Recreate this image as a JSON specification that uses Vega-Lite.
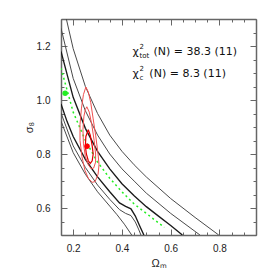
{
  "$schema": "https://vega.github.io/schema/vega-lite/v6.json",
  "width": 195,
  "height": 216,
  "autosize": "none",
  "padding": {"left": 61, "top": 19, "right": 18, "bottom": 39},
  "background": "white",
  "config": {"view": {"stroke": null}, "font": "Liberation Sans"},
  "datasets": {
    "lines": [
      {"g": "L1", "x": 0.172, "y": 1.3}, {"g": "L1", "x": 0.2, "y": 1.19}, {"g": "L1", "x": 0.25, "y": 1.05}, {"g": "L1", "x": 0.3, "y": 0.95}, {"g": "L1", "x": 0.35, "y": 0.87}, {"g": "L1", "x": 0.4, "y": 0.81}, {"g": "L1", "x": 0.45, "y": 0.76}, {"g": "L1", "x": 0.5, "y": 0.715}, {"g": "L1", "x": 0.6, "y": 0.635}, {"g": "L1", "x": 0.7, "y": 0.565}, {"g": "L1", "x": 0.797, "y": 0.5},
      {"g": "L2", "x": 0.15, "y": 1.266}, {"g": "L2", "x": 0.2, "y": 1.08}, {"g": "L2", "x": 0.25, "y": 0.96}, {"g": "L2", "x": 0.3, "y": 0.87}, {"g": "L2", "x": 0.35, "y": 0.8}, {"g": "L2", "x": 0.4, "y": 0.745}, {"g": "L2", "x": 0.45, "y": 0.7}, {"g": "L2", "x": 0.5, "y": 0.655}, {"g": "L2", "x": 0.6, "y": 0.58}, {"g": "L2", "x": 0.72, "y": 0.5},
      {"g": "L3", "x": 0.15, "y": 1.18}, {"g": "L3", "x": 0.2, "y": 1.01}, {"g": "L3", "x": 0.25, "y": 0.895}, {"g": "L3", "x": 0.3, "y": 0.81}, {"g": "L3", "x": 0.35, "y": 0.745}, {"g": "L3", "x": 0.4, "y": 0.69}, {"g": "L3", "x": 0.45, "y": 0.645}, {"g": "L3", "x": 0.5, "y": 0.605}, {"g": "L3", "x": 0.55, "y": 0.57}, {"g": "L3", "x": 0.6, "y": 0.535}, {"g": "L3", "x": 0.648, "y": 0.5},
      {"g": "L4", "x": 0.15, "y": 0.985}, {"g": "L4", "x": 0.175, "y": 0.92}, {"g": "L4", "x": 0.2, "y": 0.865}, {"g": "L4", "x": 0.25, "y": 0.78}, {"g": "L4", "x": 0.3, "y": 0.715}, {"g": "L4", "x": 0.35, "y": 0.66}, {"g": "L4", "x": 0.39, "y": 0.619}, {"g": "L4", "x": 0.415, "y": 0.606}, {"g": "L4", "x": 0.437, "y": 0.597}, {"g": "L4", "x": 0.455, "y": 0.57}, {"g": "L4", "x": 0.472, "y": 0.535}, {"g": "L4", "x": 0.49, "y": 0.5},
      {"g": "L5", "x": 0.15, "y": 0.952}, {"g": "L5", "x": 0.2, "y": 0.83}, {"g": "L5", "x": 0.25, "y": 0.75}, {"g": "L5", "x": 0.3, "y": 0.685}, {"g": "L5", "x": 0.35, "y": 0.632}, {"g": "L5", "x": 0.39, "y": 0.594}, {"g": "L5", "x": 0.415, "y": 0.58}, {"g": "L5", "x": 0.437, "y": 0.572}, {"g": "L5", "x": 0.455, "y": 0.548}, {"g": "L5", "x": 0.468, "y": 0.522}, {"g": "L5", "x": 0.478, "y": 0.5},
      {"g": "L6", "x": 0.15, "y": 0.922}, {"g": "L6", "x": 0.2, "y": 0.805}, {"g": "L6", "x": 0.25, "y": 0.725}, {"g": "L6", "x": 0.3, "y": 0.66}, {"g": "L6", "x": 0.35, "y": 0.607}, {"g": "L6", "x": 0.38, "y": 0.575}, {"g": "L6", "x": 0.41, "y": 0.54}, {"g": "L6", "x": 0.44, "y": 0.5}
    ],
    "green": [
      {"x": 0.15, "y": 1.118}, {"x": 0.2, "y": 0.955}, {"x": 0.25, "y": 0.85}, {"x": 0.3, "y": 0.77}, {"x": 0.35, "y": 0.71}, {"x": 0.4, "y": 0.66}, {"x": 0.45, "y": 0.615}, {"x": 0.5, "y": 0.58}, {"x": 0.574, "y": 0.528}
    ],
    "red": [
      {"c": "outer", "i": 0, "x": 0.252, "y": 1.048}, {"c": "outer", "i": 1, "x": 0.262, "y": 1.03}, {"c": "outer", "i": 2, "x": 0.272, "y": 0.99}, {"c": "outer", "i": 3, "x": 0.282, "y": 0.93}, {"c": "outer", "i": 4, "x": 0.292, "y": 0.87}, {"c": "outer", "i": 5, "x": 0.302, "y": 0.8}, {"c": "outer", "i": 6, "x": 0.306, "y": 0.76}, {"c": "outer", "i": 7, "x": 0.302, "y": 0.725}, {"c": "outer", "i": 8, "x": 0.29, "y": 0.698}, {"c": "outer", "i": 9, "x": 0.278, "y": 0.695}, {"c": "outer", "i": 10, "x": 0.262, "y": 0.71}, {"c": "outer", "i": 11, "x": 0.248, "y": 0.74}, {"c": "outer", "i": 12, "x": 0.236, "y": 0.79}, {"c": "outer", "i": 13, "x": 0.228, "y": 0.85}, {"c": "outer", "i": 14, "x": 0.228, "y": 0.91}, {"c": "outer", "i": 15, "x": 0.234, "y": 0.97}, {"c": "outer", "i": 16, "x": 0.242, "y": 1.02}, {"c": "outer", "i": 17, "x": 0.252, "y": 1.048},
      {"c": "middle", "i": 0, "x": 0.256, "y": 0.975}, {"c": "middle", "i": 1, "x": 0.266, "y": 0.955}, {"c": "middle", "i": 2, "x": 0.276, "y": 0.91}, {"c": "middle", "i": 3, "x": 0.286, "y": 0.85}, {"c": "middle", "i": 4, "x": 0.292, "y": 0.8}, {"c": "middle", "i": 5, "x": 0.292, "y": 0.77}, {"c": "middle", "i": 6, "x": 0.284, "y": 0.748}, {"c": "middle", "i": 7, "x": 0.274, "y": 0.745}, {"c": "middle", "i": 8, "x": 0.262, "y": 0.76}, {"c": "middle", "i": 9, "x": 0.25, "y": 0.79}, {"c": "middle", "i": 10, "x": 0.242, "y": 0.84}, {"c": "middle", "i": 11, "x": 0.24, "y": 0.89}, {"c": "middle", "i": 12, "x": 0.244, "y": 0.94}, {"c": "middle", "i": 13, "x": 0.25, "y": 0.965}, {"c": "middle", "i": 14, "x": 0.256, "y": 0.975},
      {"c": "inner", "i": 0, "x": 0.262, "y": 0.89}, {"c": "inner", "i": 1, "x": 0.27, "y": 0.87}, {"c": "inner", "i": 2, "x": 0.278, "y": 0.83}, {"c": "inner", "i": 3, "x": 0.282, "y": 0.8}, {"c": "inner", "i": 4, "x": 0.278, "y": 0.775}, {"c": "inner", "i": 5, "x": 0.27, "y": 0.765}, {"c": "inner", "i": 6, "x": 0.262, "y": 0.775}, {"c": "inner", "i": 7, "x": 0.254, "y": 0.8}, {"c": "inner", "i": 8, "x": 0.25, "y": 0.83}, {"c": "inner", "i": 9, "x": 0.252, "y": 0.865}, {"c": "inner", "i": 10, "x": 0.262, "y": 0.89}
    ],
    "pts": [
      {"p": "green", "x": 0.167, "y": 1.025},
      {"p": "red", "x": 0.257, "y": 0.829}
    ],
    "txtMain": [
      {"x": 0.443, "y": 1.177, "t": "χ"},
      {"x": 0.529, "y": 1.177, "t": "(N) = 38.3 (11)"},
      {"x": 0.443, "y": 1.097, "t": "χ"},
      {"x": 0.5125, "y": 1.097, "t": "(N) = 8.3 (11)"}
    ],
    "txtSup": [
      {"x": 0.443, "y": 1.177, "t": "2"},
      {"x": 0.443, "y": 1.097, "t": "2"}
    ],
    "txtSub": [
      {"x": 0.443, "y": 1.177, "t": "tot"},
      {"x": 0.443, "y": 1.097, "t": "c"}
    ]
  },
  "layer": [
    {
      "data": {"name": "lines"},
      "transform": [{"filter": "datum.g == 'L1' || datum.g == 'L2' || datum.g == 'L5' || datum.g == 'L6'"}],
      "mark": {"type": "line", "stroke": "#4a4a4a", "strokeWidth": 1, "clip": true},
      "encoding": {
        "x": {"field": "x", "type": "quantitative",
          "scale": {"domain": [0.15, 0.95], "nice": false, "zero": false},
          "axis": {"orient": "bottom", "values": [0.15,0.2,0.25,0.3,0.35,0.4,0.45,0.5,0.55,0.6,0.65,0.7,0.75,0.8,0.85,0.9,0.95],
            "labelExpr": "abs(datum.value*5-round(datum.value*5))<0.001 ? format(datum.value,'.1f') : ''",
            "tickSize": {"condition": {"test": "abs(datum.value*5-round(datum.value*5))<0.001", "value": -6}, "value": -3},
            "labelPadding": 14, "labelFontSize": 10, "labelColor": "#222222", "labelFont": "Liberation Sans",
            "domainColor": "#666666", "domainWidth": 1.5, "tickColor": "#666666", "tickWidth": 1, "grid": false,
            "title": "Ωₘ", "titleFontSize": 11, "titleFontWeight": "normal", "titleColor": "#222222", "titlePadding": 4}},
        "y": {"field": "y", "type": "quantitative",
          "scale": {"domain": [0.5, 1.3], "nice": false, "zero": false},
          "axis": {"orient": "left", "values": [0.5,0.55,0.6,0.65,0.7,0.75,0.8,0.85,0.9,0.95,1.0,1.05,1.1,1.15,1.2,1.25,1.3],
            "labelExpr": "abs(datum.value*5-round(datum.value*5))<0.001 ? format(datum.value,'.1f') : ''",
            "tickSize": {"condition": {"test": "abs(datum.value*5-round(datum.value*5))<0.001", "value": -6}, "value": -3},
            "labelPadding": 17, "labelFontSize": 10, "labelColor": "#222222", "labelFont": "Liberation Sans",
            "domainColor": "#666666", "domainWidth": 1.5, "tickColor": "#666666", "tickWidth": 1, "grid": false,
            "title": "σ₈", "titleFontSize": 11, "titleFontWeight": "normal", "titleColor": "#222222", "titlePadding": 2}},
        "detail": {"field": "g"}
      }
    },
    {
      "data": {"name": "lines"},
      "transform": [{"filter": "datum.g == 'L3' || datum.g == 'L4'"}],
      "mark": {"type": "line", "stroke": "#1a1a1a", "strokeWidth": 1.35, "clip": true},
      "encoding": {
        "x": {"field": "x", "type": "quantitative",
          "axis": {"orient": "top", "values": [0.15,0.2,0.25,0.3,0.35,0.4,0.45,0.5,0.55,0.6,0.65,0.7,0.75,0.8,0.85,0.9,0.95],
            "labels": false, "title": null,
            "tickSize": {"condition": {"test": "abs(datum.value*5-round(datum.value*5))<0.001", "value": -6}, "value": -3},
            "domainColor": "#666666", "domainWidth": 1.5, "tickColor": "#666666", "tickWidth": 1, "grid": false}},
        "y": {"field": "y", "type": "quantitative",
          "axis": {"orient": "right", "values": [0.5,0.55,0.6,0.65,0.7,0.75,0.8,0.85,0.9,0.95,1.0,1.05,1.1,1.15,1.2,1.25,1.3],
            "labels": false, "title": null,
            "tickSize": {"condition": {"test": "abs(datum.value*5-round(datum.value*5))<0.001", "value": -6}, "value": -3},
            "domainColor": "#666666", "domainWidth": 1.5, "tickColor": "#666666", "tickWidth": 1, "grid": false}},
        "detail": {"field": "g"}
      }
    },
    {
      "data": {"name": "green"},
      "mark": {"type": "line", "stroke": "#22ee22", "strokeWidth": 1.5, "strokeDash": [2, 3], "clip": true},
      "encoding": {
        "x": {"field": "x", "type": "quantitative", "axis": null},
        "y": {"field": "y", "type": "quantitative", "axis": null}
      }
    },
    {
      "data": {"name": "red"},
      "transform": [{"filter": "datum.c != 'inner'"}],
      "mark": {"type": "line", "stroke": "#f05050", "strokeWidth": 1, "clip": true},
      "encoding": {
        "x": {"field": "x", "type": "quantitative", "axis": null},
        "y": {"field": "y", "type": "quantitative", "axis": null},
        "detail": {"field": "c"},
        "order": {"field": "i"}
      }
    },
    {
      "data": {"name": "red"},
      "transform": [{"filter": "datum.c == 'inner'"}],
      "mark": {"type": "line", "stroke": "#e00000", "strokeWidth": 1.2, "clip": true},
      "encoding": {
        "x": {"field": "x", "type": "quantitative", "axis": null},
        "y": {"field": "y", "type": "quantitative", "axis": null},
        "order": {"field": "i"}
      }
    },
    {
      "data": {"name": "pts"},
      "mark": {"type": "point", "filled": true, "shape": "circle", "size": 30, "opacity": 1},
      "encoding": {
        "x": {"field": "x", "type": "quantitative", "axis": null},
        "y": {"field": "y", "type": "quantitative", "axis": null},
        "color": {"field": "p", "type": "nominal", "scale": {"domain": ["green", "red"], "range": ["#22ee22", "#ff0000"]}, "legend": null}
      }
    },
    {
      "data": {"name": "txtMain"},
      "mark": {"type": "text", "align": "left", "baseline": "middle", "fontSize": 11, "font": "DejaVu Sans", "color": "#111111"},
      "encoding": {
        "x": {"field": "x", "type": "quantitative", "axis": null},
        "y": {"field": "y", "type": "quantitative", "axis": null},
        "text": {"field": "t"}
      }
    },
    {
      "data": {"name": "txtSup"},
      "mark": {"type": "text", "align": "left", "baseline": "middle", "fontSize": 7, "dx": 7, "dy": -5, "font": "DejaVu Sans", "color": "#111111"},
      "encoding": {
        "x": {"field": "x", "type": "quantitative", "axis": null},
        "y": {"field": "y", "type": "quantitative", "axis": null},
        "text": {"field": "t"}
      }
    },
    {
      "data": {"name": "txtSub"},
      "mark": {"type": "text", "align": "left", "baseline": "middle", "fontSize": 7, "dx": 7, "dy": 4, "font": "DejaVu Sans", "color": "#111111"},
      "encoding": {
        "x": {"field": "x", "type": "quantitative", "axis": null},
        "y": {"field": "y", "type": "quantitative", "axis": null},
        "text": {"field": "t"}
      }
    }
  ],
  "resolve": {"axis": {"x": "independent", "y": "independent"}}
}
